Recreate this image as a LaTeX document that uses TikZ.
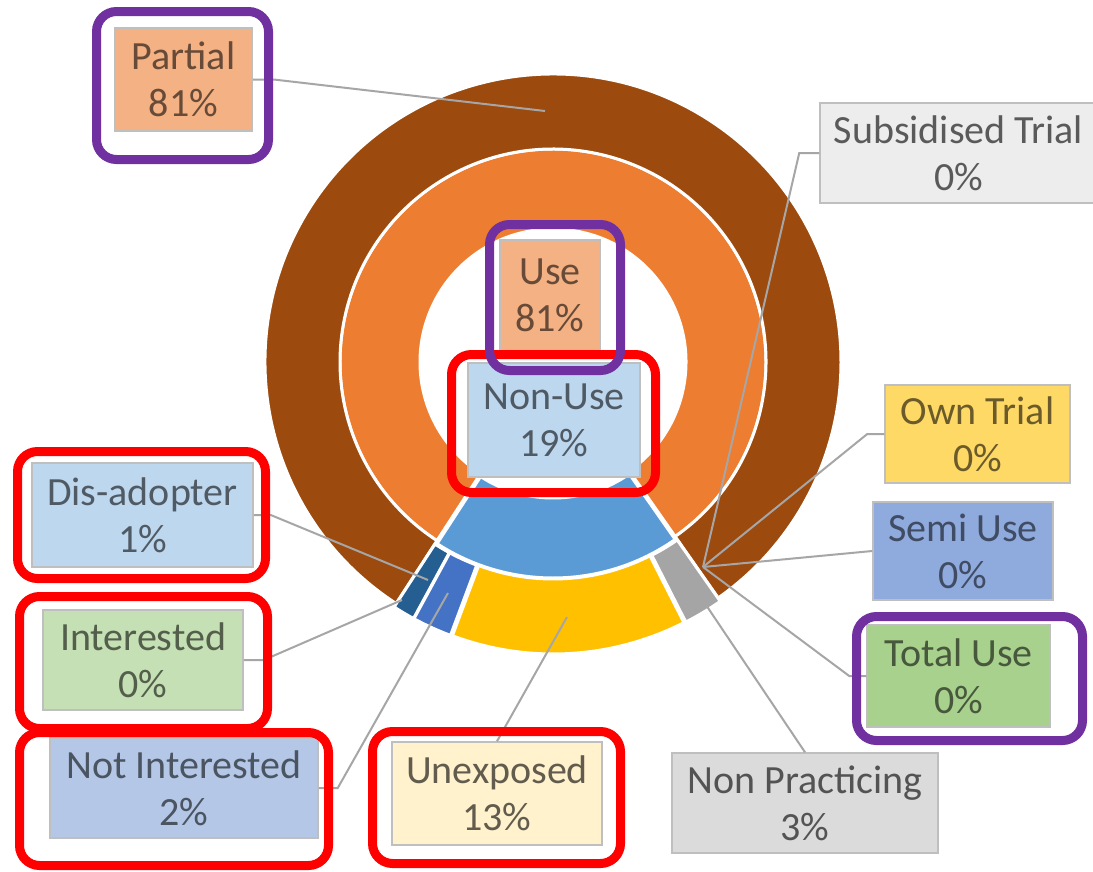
\documentclass[tikz,border=0pt]{standalone}
\usepackage{fontspec}
\setmainfont{Carlito}
\definecolor{cPartial}{HTML}{9C4A0E}
\definecolor{cUse}{HTML}{ED7D31}
\definecolor{cNonUse}{HTML}{5B9BD5}
\definecolor{cDis}{HTML}{255E91}
\definecolor{cNotInt}{HTML}{4472C4}
\definecolor{cUnexp}{HTML}{FFC000}
\definecolor{cNonPrac}{HTML}{A5A5A5}
\definecolor{fOrange}{HTML}{F4B183}
\definecolor{fLightBlue}{HTML}{BDD7EE}
\definecolor{fSubs}{HTML}{EDEDED}
\definecolor{fOwn}{HTML}{FFD966}
\definecolor{fSemi}{HTML}{8FAADC}
\definecolor{fTotal}{HTML}{A9D18E}
\definecolor{fNonPrac}{HTML}{DBDBDB}
\definecolor{fUnexp}{HTML}{FFF2CC}
\definecolor{fNotInt}{HTML}{B4C7E7}
\definecolor{fInt}{HTML}{C5E0B4}
\definecolor{boxedge}{HTML}{BFBFBF}
\definecolor{leadergray}{HTML}{A6A6A6}
\definecolor{framered}{HTML}{FF0000}
\definecolor{framepurple}{HTML}{7030A0}
\newcommand\ringsector[6]{%
  \pgfmathsetmacro\secmid{(#2+#3)/2}%
  \fill[#1, draw=white, line width=3pt, line join=round, shift={(\secmid:#6)}]
    (#2:#5) arc[start angle=#2, end angle=#3, radius=#5]
    -- (#3:#4) arc[start angle=#3, end angle=#2, radius=#4] -- cycle;
}
\begin{document}
\begin{tikzpicture}[x=1pt,y=-1pt,
  databox/.style={rectangle, draw=boxedge, line width=1.5pt, inner sep=0pt,
    align=center, font=\fontsize{40}{47}\selectfont},
  leader/.style={draw=leadergray, line width=2pt},
  redframe/.style={draw=framered, line width=9pt, rounded corners=20pt},
  purpleframe/.style={draw=framepurple, line width=9pt, rounded corners=20pt}]
\useasboundingbox[fill=white] (0,0) rectangle (1093,871);

% doughnut
\begin{scope}[shift={(553,362)}]
  % inner ring
  \ringsector{cUse}{123}{415}{133}{213}{0}
  \ringsector{cNonUse}{55}{123}{133}{213}{3}
  % outer ring
  \ringsector{cPartial}{123}{415}{213}{288}{0}
  \ringsector{cDis}{118.5}{123}{213}{288}{4}
  \ringsector{cNotInt}{110.5}{118.5}{213}{288}{4}
  \ringsector{cUnexp}{63}{110.5}{213}{288}{4}
  \ringsector{cNonPrac}{55}{63}{213}{288}{4}
\end{scope}

% anchor points on the slices
\coordinate (pPartial) at (545,111);
\coordinate (conv) at (703,567);
\coordinate (pNonPrac) at (700,596);
\coordinate (pUnexp) at (567,617);
\coordinate (pNotInt) at (448,593);
\coordinate (pInt) at (402,600);
\coordinate (pDis) at (428,580);

% label boxes
\node[databox, fill=fOrange, text=black!58!fOrange, minimum width=137pt, minimum height=103pt] (partial) at (183.5,79.5) {Partial\\81\%};
\node[databox, fill=fSubs, text=black!62!fSubs, minimum width=277pt, minimum height=100pt] (subs) at (958.5,153) {Subsidised Trial\\0\%};
\node[databox, fill=fOwn, text=black!58!fOwn, minimum width=185pt, minimum height=98pt] (own) at (977.5,434) {Own Trial\\0\%};
\node[databox, fill=fSemi, text=black!55!fSemi, minimum width=180pt, minimum height=98pt] (semi) at (963,551) {Semi Use\\0\%};
\node[databox, fill=fTotal, text=black!58!fTotal, minimum width=183pt, minimum height=102pt] (total) at (958.5,676) {Total Use\\0\%};
\node[databox, fill=fNonPrac, text=black!62!fNonPrac, minimum width=266pt, minimum height=100pt] (nonprac) at (805,803) {Non Practicing\\3\%};
\node[databox, fill=fUnexp, text=black!62!fUnexp, minimum width=210pt, minimum height=103pt] (unexp) at (497,793.5) {Unexposed\\13\%};
\node[databox, fill=fNotInt, text=black!58!fNotInt, minimum width=268pt, minimum height=100pt] (notint) at (184,788) {Not Interested\\2\%};
\node[databox, fill=fInt, text=black!58!fInt, minimum width=200pt, minimum height=100pt] (int) at (143,660) {Interested\\0\%};
\node[databox, fill=fLightBlue, text=black!58!fLightBlue, minimum width=221pt, minimum height=104pt] (dis) at (142.5,515) {Dis-adopter\\1\%};
\node[databox, fill=fLightBlue, text=black!58!fLightBlue, minimum width=172pt, minimum height=114pt] (nonuse) at (554,420) {Non-Use\\19\%};
\node[databox, fill=fOrange, text=black!58!fOrange, minimum width=100pt, minimum height=110pt] (use) at (550,295) {Use\\81\%};

% leader lines
\draw[leader] (partial.east) -- ++(21,0) -- (pPartial);
\draw[leader] (subs.west) -- ++(-20,0) -- (conv);
\draw[leader] (own.west) -- ++(-17,0) -- (conv);
\draw[leader] (semi.west) -- (conv);
\draw[leader] (total.west) -- ++(-17,0) -- (conv);
\draw[leader] (nonprac.north) -- (pNonPrac);
\draw[leader] (unexp.north) -- (pUnexp);
\draw[leader] (notint.east) -- ++(19,0) -- (pNotInt);
\draw[leader] (int.east) -- ++(20,0) -- (pInt);
\draw[leader] (dis.east) -- ++(17,0) -- (pDis);

% highlight frames
\draw[redframe] (451.5,354.5) rectangle (655.5,492.5);
\draw[purpleframe] (489.5,224.5) rectangle (620.5,370.5);
\draw[purpleframe] (96.5,11.5) rectangle (268.5,159.5);
\draw[purpleframe] (856.5,616.5) rectangle (1082.5,740.5);
\draw[redframe] (372.5,731.5) rectangle (620.5,863.5);
\draw[redframe] (19.5,732.5) rectangle (328.5,865.5);
\draw[redframe] (19.5,596.5) rectangle (267.5,728.5);
\draw[redframe] (17.5,451.5) rectangle (265.5,578.5);
\end{tikzpicture}
\end{document}
